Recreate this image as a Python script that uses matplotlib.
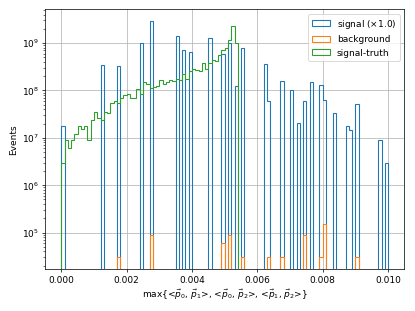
import matplotlib
matplotlib.use("Agg")
import matplotlib.pyplot as plt
import numpy as np

# 100 bins between 0 and 0.01
bin_edges = np.linspace(0.0, 0.01, 101)
bin_centers = 0.5 * (bin_edges[:-1] + bin_edges[1:])

# signal: only a few bins are filled
signal_bins = [0, 12, 17, 24, 27, 35, 37, 39, 45, 49, 51, 53, 55, 62, 63, 67,
               70, 72, 74, 76, 79, 80, 83, 87, 88, 90, 97, 99]
signal_counts = [1.8e7, 3.4e8, 3.2e8, 1.0e9, 2.9e9, 1.43e9, 7.1e8, 6.5e8,
                 1.27e9, 5.8e8, 1.0e9, 1.27e8, 7.7e8, 3.6e8, 5.9e7, 1.55e8,
                 1.02e8, 2.07e7, 5.9e7, 1.52e8, 1.3e8, 6.3e7, 3.3e7, 1.8e7,
                 1.48e7, 5.1e7, 8.9e6, 3.0e6]

# background: weighted events (weight ~3e4)
background_bins = [17, 27, 49, 51, 55, 63, 67, 74, 79, 80, 90]
background_counts = [3.0e4, 8.9e4, 6.0e4, 8.9e4, 3.0e4, 3.0e4, 3.0e4, 8.9e4,
                     3.0e4, 1.5e5, 3.0e4]

# signal-truth: filled from bin 0 to bin 53
truth_counts = [2.96e6, 9.1e6, 6.05e6, 9.1e6, 1.19e7, 1.76e7, 1.5e7, 1.76e7,
                9.1e6, 2.36e7, 3.48e7, 2.6e7, 2.36e7, 3.48e7, 3.27e7, 5.31e7,
                5.94e7, 5.31e7, 6.89e7, 7.83e7, 8.49e7, 6.89e7, 6.89e7, 1.07e8,
                8.49e7, 1.48e8, 1.36e8, 1.12e8, 1.17e8, 1.21e8, 1.63e8, 1.34e8,
                1.48e8, 1.68e8, 1.57e8, 1.76e8, 1.63e8, 2.25e8, 1.73e8, 2.52e8,
                2.77e8, 2.64e8, 2.6e8, 3.78e8, 2.82e8, 3.78e8, 4.3e8, 4.09e8,
                5.66e8, 6.98e8, 7.83e8, 1.14e9, 2.28e9, 9.8e8]

signal = np.zeros(100)
signal[signal_bins] = signal_counts
background = np.zeros(100)
background[background_bins] = background_counts
truth = np.zeros(100)
truth[:len(truth_counts)] = truth_counts

fig = plt.figure(figsize=(6.4, 4.8), dpi=415 / 6.4)
ax = fig.add_subplot(111)
fig.subplots_adjust(left=0.1084, right=0.9745, top=0.9695, bottom=0.1344)

ax.hist(bin_centers, bins=bin_edges, weights=signal, histtype='step',
        log=True, lw=1.2, label=r'signal ($\times$1.0)')
ax.hist(bin_centers, bins=bin_edges, weights=background, histtype='step',
        log=True, lw=1.2, label='background')
ax.hist(bin_centers, bins=bin_edges, weights=truth, histtype='step',
        log=True, lw=1.2, label='signal-truth')

ax.set_ylim(10 ** 4.228, 10 ** 9.713)
ax.set_xlabel(r'max{<$\vec{p}_0$, $\vec{p}_1$>, <$\vec{p}_0$, $\vec{p}_2$>, <$\vec{p}_1$, $\vec{p}_2$>}')
ax.set_ylabel('Events')
ax.grid(True)
ax.legend(loc='upper right')

fig.savefig('out.png')
